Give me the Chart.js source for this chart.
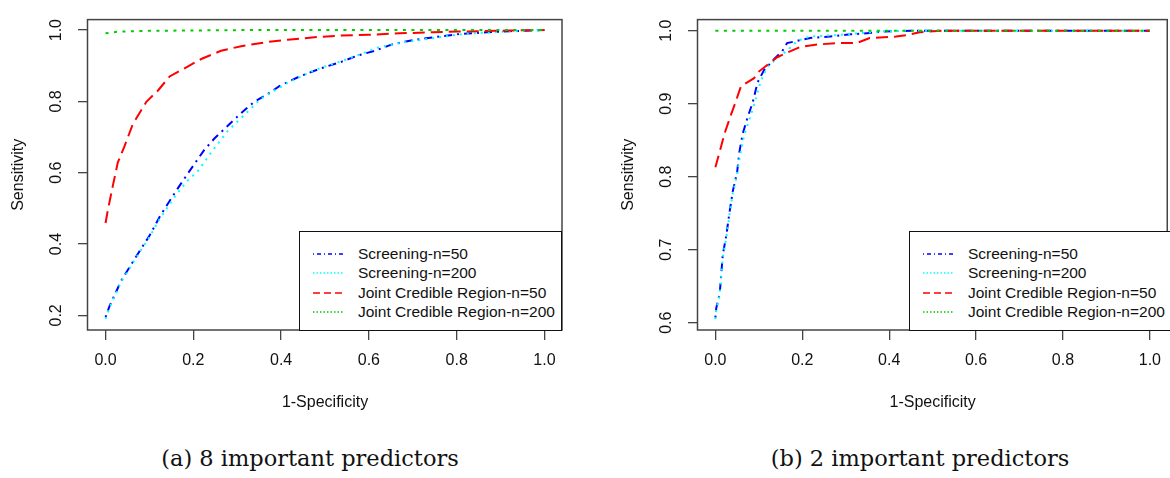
<!DOCTYPE html>
<html>
<head>
<meta charset="utf-8">
<script src="https://cdn.jsdelivr.net/npm/chart.js@4.4.1/dist/chart.umd.min.js"></script>
<style>
  body { margin:0; width:1170px; height:478px; overflow:hidden; background:#fff; position:relative; font-family:"Liberation Sans", Arial, sans-serif; }
  canvas { position:absolute; top:0; }
  #chartA { left:0; }
  #chartB { left:610px; }
  .legend { position:absolute; top:231px; height:100px; box-sizing:border-box; border:1px solid #111; background:#fff; }
  .legend .row { position:absolute; left:0; right:0; height:20px; line-height:20px; font-size:15.5px; color:#111; white-space:nowrap; }
  .legend svg { position:absolute; left:13px; top:0; }
  .legend span { position:absolute; left:58px; }
  .caption { position:absolute; top:444px; width:400px; text-align:center; font-family:"DejaVu Serif", serif; font-size:22.5px; line-height:28px; color:#111; white-space:nowrap; }
</style>
</head>
<body>
<canvas id="chartA" width="580" height="430"></canvas>
<canvas id="chartB" width="562" height="430"></canvas>
<div class="legend" id="legendA" style="left:299px; width:263px;"></div>
<div class="legend" id="legendB" style="left:909px; width:270px;"></div>
<div class="caption" style="left:110px;">(a) 8 important predictors</div>
<div class="caption" style="left:720px;">(b) 2 important predictors</div>
<script>
// series names / ticks
const seriesNames = ['Screening-n=50', 'Screening-n=200', 'Joint Credible Region-n=50', 'Joint Credible Region-n=200'];
const xTicks = [0, 0.2, 0.4, 0.6, 0.8, 1.0];
const yTicksA = [0.2, 0.4, 0.6, 0.8, 1.0];
const yTicksB = [0.6, 0.7, 0.8, 0.9, 1.0];

// (a) 8 important predictors
const scr50X_A = [0, 0.009, 0.036, 0.058, 0.081, 0.10, 0.123, 0.146, 0.165, 0.187, 0.21, 0.225, 0.248, 0.271, 0.294, 0.317, 0.339, 0.37, 0.396, 0.442, 0.491, 0.537, 0.575, 0.613, 0.653, 0.705, 0.76, 0.807, 0.868, 0.92, 1.0];
const scr50Y_A = [0.195, 0.226, 0.298, 0.342, 0.387, 0.423, 0.476, 0.521, 0.557, 0.597, 0.638, 0.664, 0.696, 0.723, 0.750, 0.776, 0.799, 0.821, 0.843, 0.870, 0.893, 0.911, 0.929, 0.942, 0.960, 0.973, 0.982, 0.989, 0.994, 0.997, 1.0];
const scr200X_A = [0, 0.009, 0.036, 0.058, 0.081, 0.10, 0.123, 0.146, 0.165, 0.187, 0.21, 0.24, 0.279, 0.317, 0.354, 0.415, 0.476, 0.552, 0.62, 0.68, 0.76, 0.807, 0.868, 0.92, 1.0];
const scr200Y_A = [0.19, 0.222, 0.295, 0.338, 0.384, 0.42, 0.47, 0.512, 0.545, 0.578, 0.604, 0.656, 0.718, 0.763, 0.808, 0.852, 0.888, 0.919, 0.951, 0.966, 0.980, 0.988, 0.993, 0.997, 1.0];
const jcr50X_A = [0, 0.005, 0.017, 0.028, 0.043, 0.062, 0.093, 0.119, 0.146, 0.18, 0.218, 0.263, 0.309, 0.37, 0.415, 0.476, 0.537, 0.60, 0.67, 0.745, 0.80, 0.853, 0.92, 1.0];
const jcr50Y_A = [0.459, 0.494, 0.566, 0.629, 0.674, 0.736, 0.799, 0.830, 0.870, 0.893, 0.919, 0.942, 0.955, 0.967, 0.973, 0.980, 0.985, 0.987, 0.991, 0.994, 0.996, 0.997, 0.999, 1.0];
const jcr200X_A = [0, 0.03, 0.1, 0.3, 1.0];
const jcr200Y_A = [0.991, 0.996, 0.998, 1.0, 1.0];

// (b) 2 important predictors
const scr50X_B = [0, 0.002, 0.01, 0.017, 0.025, 0.032, 0.04, 0.05, 0.055, 0.063, 0.074, 0.086, 0.097, 0.112, 0.135, 0.154, 0.165, 0.188, 0.218, 0.264, 0.31, 0.34, 0.386, 0.45, 1.0];
const scr50Y_B = [0.607, 0.620, 0.640, 0.693, 0.719, 0.749, 0.780, 0.806, 0.833, 0.859, 0.881, 0.902, 0.929, 0.946, 0.961, 0.972, 0.983, 0.986, 0.990, 0.992, 0.995, 0.996, 0.999, 1.0, 1.0];
const scr200X_B = [0, 0.002, 0.01, 0.017, 0.025, 0.032, 0.04, 0.05, 0.057, 0.066, 0.078, 0.09, 0.104, 0.12, 0.14, 0.173, 0.188, 0.218, 0.28, 0.32, 0.38, 0.45, 1.0];
const scr200Y_B = [0.605, 0.618, 0.638, 0.69, 0.716, 0.746, 0.777, 0.803, 0.83, 0.856, 0.878, 0.9, 0.93, 0.951, 0.961, 0.977, 0.986, 0.992, 0.994, 0.996, 0.999, 1.0, 1.0];
const jcr50X_B = [0, 0.013, 0.021, 0.036, 0.044, 0.059, 0.089, 0.10, 0.143, 0.173, 0.196, 0.234, 0.279, 0.325, 0.355, 0.416, 0.441, 0.47, 0.523, 1.0];
const jcr50Y_B = [0.813, 0.841, 0.859, 0.885, 0.898, 0.924, 0.935, 0.944, 0.964, 0.972, 0.978, 0.981, 0.983, 0.983, 0.990, 0.992, 0.994, 0.998, 1.0, 1.0];
const jcr200X_B = [0, 1.0];
const jcr200Y_B = [1.0, 1.0];

const colors = ['#0000ff', '#00ffff', '#ff0000', '#00cc00'];
const dashes = [[2, 5, 8, 5], [2, 5], [12, 6], [3, 5.5]];
const legendDashes = ['1,3,4,3', '1.5,2', '7,4', '1.5,2'];

const textFont = { family: '"Liberation Sans", Arial, sans-serif', size: 16 };
const axisColor = '#444';

const pts = (xs, ys) => xs.map((x, i) => ({ x: x, y: ys[i] }));

// R style box round the plot region
const boxPlugin = {
    id: 'box',
    afterDraw(chart) {
        const a = chart.chartArea, ctx = chart.ctx;
        ctx.save();
        ctx.strokeStyle = axisColor;
        ctx.lineWidth = 1.5;
        ctx.strokeRect(a.left - 0.5, a.top, a.right - a.left + 0.5, a.bottom - a.top);
        ctx.restore();
    }
};

function makeChart(id, data, yMin, yMax, yTicks, padRight) {
    const datasets = data.map((d, i) => ({
        label: seriesNames[i],
        data: d,
        borderColor: colors[i],
        borderWidth: 2,
        borderDash: dashes[i],
        pointRadius: 0,
        fill: false,
        tension: 0,
        order: 3 - i
    }));
    return new Chart(document.getElementById(id), {
        type: 'line',
        data: { datasets: datasets },
        plugins: [boxPlugin],
        options: {
            responsive: false,
            animation: false,
            devicePixelRatio: 1,
            layout: { padding: { left: 0, top: 6, right: padRight, bottom: 0 } },
            plugins: { legend: { display: false }, tooltip: { enabled: false } },
            scales: {
                x: {
                    type: 'linear', min: -0.04, max: 1.04,
                    afterBuildTicks: s => { s.ticks = xTicks.map(v => ({ value: v })); },
                    afterFit: s => { s.height = 100; },
                    ticks: { callback: v => v.toFixed(1), font: textFont, color: '#111', padding: 11, maxRotation: 0, autoSkip: false },
                    grid: { drawOnChartArea: false, tickLength: 10, color: axisColor, lineWidth: 1.3 },
                    border: { display: false },
                    title: { display: true, text: '1-Specificity', font: textFont, color: '#111', padding: { top: 0, bottom: 18 } }
                },
                y: {
                    type: 'linear', min: yMin, max: yMax,
                    afterBuildTicks: s => { s.ticks = yTicks.map(v => ({ value: v })); },
                    afterFit: s => { s.width = 88; },
                    ticks: { callback: v => v.toFixed(1), font: textFont, color: '#111', padding: 10, minRotation: 90, maxRotation: 90, crossAlign: 'center', autoSkip: false },
                    grid: { drawOnChartArea: false, tickLength: 10, color: axisColor, lineWidth: 1.3 },
                    border: { display: false },
                    title: { display: true, text: 'Sensitivity', font: textFont, color: '#111', padding: { top: 9, bottom: 0 } }
                }
            }
        }
    });
}

makeChart('chartA', [pts(scr50X_A, scr50Y_A), pts(scr200X_A, scr200Y_A), pts(jcr50X_A, jcr50Y_A), pts(jcr200X_A, jcr200Y_A)], 0.159, 1.0295, yTicksA, 18);
makeChart('chartB', [pts(scr50X_B, scr50Y_B), pts(scr200X_B, scr200Y_B), pts(jcr50X_B, jcr50Y_B), pts(jcr200X_B, jcr200Y_B)], 0.590, 1.0152, yTicksB, 0);

// legends
const rowCenters = [22, 41, 61, 80];
['legendA', 'legendB'].forEach(id => {
    const box = document.getElementById(id);
    seriesNames.forEach((name, i) => {
        const row = document.createElement('div');
        row.className = 'row';
        row.style.top = (rowCenters[i] - 10) + 'px';
        row.innerHTML = '<svg width="30" height="20"><line x1="0" y1="10" x2="30" y2="10" stroke="' + colors[i] +
            '" stroke-width="1.3" stroke-dasharray="' + legendDashes[i] + '"/></svg><span>' + name + '</span>';
        box.appendChild(row);
    });
});
</script>
</body>
</html>
